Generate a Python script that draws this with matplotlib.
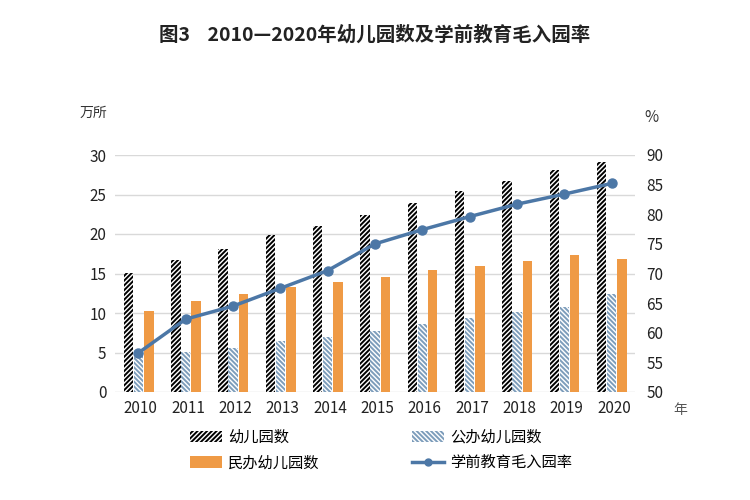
import numpy as np
import matplotlib
matplotlib.use("Agg")
import matplotlib.pyplot as plt
from matplotlib.lines import Line2D
from matplotlib.patches import Patch

plt.rcParams['font.family'] = ['Noto Sans CJK SC', 'DejaVu Sans']
plt.rcParams['hatch.linewidth'] = 1.4

years = ['2010', '2011', '2012', '2013', '2014', '2015', '2016', '2017', '2018', '2019', '2020']
total = [15.04, 16.68, 18.13, 19.86, 20.99, 22.37, 23.98, 25.50, 26.67, 28.12, 29.17]
public = [5.2, 5.1, 5.6, 6.4, 7.0, 7.7, 8.6, 9.4, 10.1, 10.8, 12.4]
private = [10.2, 11.5, 12.4, 13.3, 13.9, 14.6, 15.4, 16.0, 16.6, 17.3, 16.8]
rate = [56.6, 62.3, 64.5, 67.5, 70.5, 75.0, 77.4, 79.6, 81.7, 83.4, 85.2]

orange = '#EF9A45'
blue_line = '#4C77A6'
blue_hatch = '#7D9DBB'

fig = plt.figure(figsize=(7.5, 5), dpi=100)
ax = fig.add_axes([0.153, 0.216, 0.694, 0.474])
x = np.arange(len(years))
w = 0.2

ax.bar(x - 0.21, total, w, color='white', edgecolor='black', hatch='///////', linewidth=0)
ax.bar(x, public, w, color='white', edgecolor=blue_hatch, hatch='\\\\\\\\\\\\\\', linewidth=0)
ax.bar(x + 0.22, private, w, color=orange, linewidth=0)

ax.set_ylim(0, 30)
ax.set_yticks(range(0, 31, 5))
ax.set_xlim(-0.5, len(years) - 0.5)
ax.set_xticks(x + 0.05)
ax.set_xticklabels(years)
ax.grid(axis='y', color='#d9d9d9', linewidth=1)
ax.set_axisbelow(True)
for s in ax.spines.values():
    s.set_visible(False)
ax.tick_params(length=0, labelsize=11, colors='#222222', pad=6)

ax2 = ax.twinx()
ax2.plot(x, rate, color=blue_line, linewidth=2.5, marker='o', markersize=6.5)
ax2.set_ylim(50, 90)
ax2.set_yticks(range(50, 91, 5))
for s in ax2.spines.values():
    s.set_visible(False)
ax2.tick_params(length=0, labelsize=11, colors='#222222', pad=8)

fig.text(0.5, 0.93, '图3    2010—2020年幼儿园数及学前教育毛入园率', ha='center',
         va='center', fontsize=14, fontweight='bold', color='#222222')
fig.text(0.125, 0.775, '万所', ha='center', va='center', fontsize=10, color='#333333')
fig.text(0.868, 0.765, '%', ha='center', va='center', fontsize=11, color='#333333')
fig.text(0.907, 0.18, '年', ha='center', va='center', fontsize=10, color='#555555')

handles = [
    Patch(facecolor='white', edgecolor='black', hatch='///////', linewidth=0, label='幼儿园数'),
    Patch(facecolor='white', edgecolor=blue_hatch, hatch='\\\\\\\\\\\\\\', linewidth=0, label='公办幼儿园数'),
    Patch(facecolor=orange, linewidth=0, label='民办幼儿园数'),
    Line2D([0], [0], color=blue_line, linewidth=2.5, marker='o', markersize=5, label='学前教育毛入园率'),
]
order = [handles[0], handles[2], handles[1], handles[3]]
fig.legend(handles=order, ncol=2, loc='center', bbox_to_anchor=(0.508, 0.1), frameon=False,
           fontsize=11, columnspacing=6.0, handlelength=2.1, handleheight=0.8,
           handletextpad=0.4, labelspacing=0.55)

fig.savefig('out.png', dpi=100)
